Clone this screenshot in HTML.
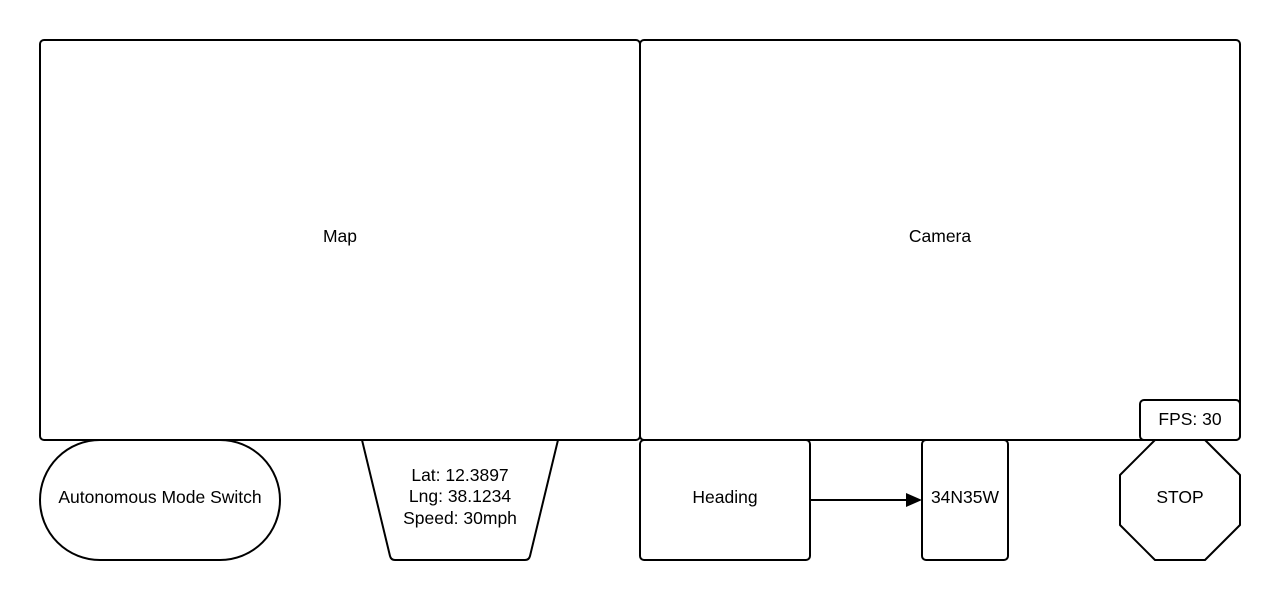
<!DOCTYPE html>
<html><head><style>body{margin:0;background:#fff}</style></head><body>
<svg width="1280" height="600" xmlns="http://www.w3.org/2000/svg" font-family="Liberation Sans, sans-serif" font-size="17.5" text-anchor="middle">
<g fill="#fff" stroke="#000" stroke-width="2" stroke-linejoin="round">
<rect x="40" y="40" width="600" height="400" rx="4"/>
<rect x="640" y="40" width="600" height="400" rx="4"/>
<rect x="1140" y="400" width="100" height="40" rx="4"/>
<path d="M100 440 H220 A60 60 0 0 1 220 560 H100 A60 60 0 0 1 100 440 Z"/>
<path d="M362 440 H558 L530 556 Q529 560 525 560 H395 Q391 560 390 556 Z"/>
<rect x="640" y="440" width="170" height="120" rx="4"/>
<rect x="922" y="440" width="86" height="120" rx="4"/>
<path d="M1155 440 H1205 L1240 475 V525 L1205 560 H1155 L1120 525 V475 Z"/>
</g>
<line x1="810" y1="500" x2="908" y2="500" stroke="#000" stroke-width="2"/>
<path d="M906 493 L922 500 L906 507 Z" fill="#000"/>
<g fill="#000">
<text x="340" y="242">Map</text>
<text x="940" y="242">Camera</text>
<text x="1190" y="425">FPS: 30</text>
<text x="160" y="503">Autonomous Mode Switch</text>
<text x="460" y="481">Lat: 12.3897</text>
<text x="460" y="502">Lng: 38.1234</text>
<text x="460" y="524">Speed: 30mph</text>
<text x="725" y="503">Heading</text>
<text x="965" y="503">34N35W</text>
<text x="1180" y="503">STOP</text>
</g>
</svg>
</body></html>
